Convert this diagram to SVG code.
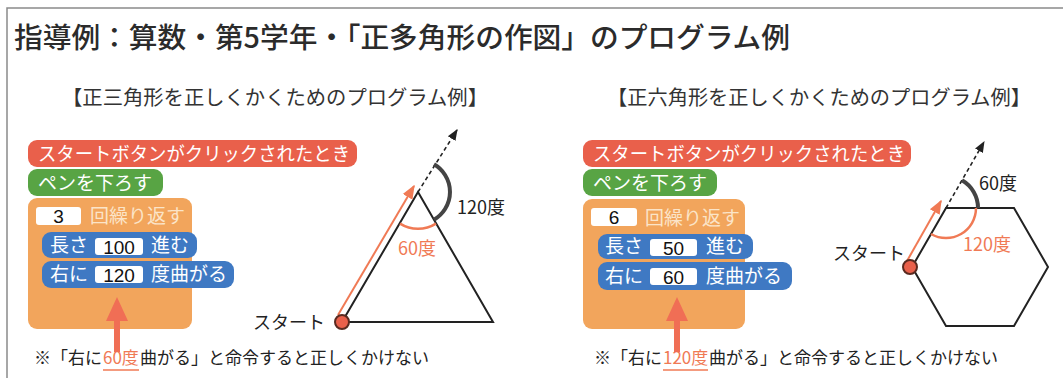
<svg xmlns="http://www.w3.org/2000/svg" width="1063" height="378" viewBox="0 0 1063 378">
<defs>
<style>
text{font-family:"Noto Sans CJK JP","Noto Sans",sans-serif;}
.title{font-size:28px;fill:#2b2b2b;font-weight:500;}
.sub{font-size:20px;fill:#333;}
.bt{font-size:19px;fill:#fff;}
.pale{font-size:19px;fill:#fbe4c8;}
.num{font-size:19px;fill:#111;font-family:"Liberation Sans",Arial,sans-serif;}
.lbl{font-size:18px;fill:#222;}
.olbl{font-size:18px;fill:#f07a55;}
.note{font-size:17px;fill:#222;}
.onote{font-size:17px;fill:#f07a55;}
.red{fill:#e9604b;}
.green{fill:#58a444;}
.orange{fill:#f2a55c;}
.blue{fill:#3f79c3;}
.box{fill:#fff;}
.edge{fill:none;stroke:#222;stroke-width:2;}
.dash{fill:none;stroke:#222;stroke-width:1.6;stroke-dasharray:4 3;}
.oline{fill:none;stroke:#f07a55;stroke-width:2;}
.garc{fill:none;stroke:#444;stroke-width:4;}
.oarc{fill:none;stroke:#f07a55;stroke-width:2.5;}
.start{fill:#e9604b;stroke:#5a2a20;stroke-width:2;}
.uarrow{fill:#f06e55;}
.uline{stroke:#f07a55;stroke-width:1.5;}
</style>
<marker id="ah" viewBox="0 0 10 10" refX="9" refY="5" markerWidth="7" markerHeight="7" orient="auto"><path d="M0,1 L10,5 L0,9 z" fill="#222"/></marker>
<marker id="oah" viewBox="0 0 10 10" refX="9" refY="5" markerWidth="7" markerHeight="7" orient="auto"><path d="M0,1 L10,5 L0,9 z" fill="#f07a55"/></marker>
</defs>
<rect x="0" y="0" width="1063" height="378" fill="#fff"/>
<g id="frame"><path d="M7,378 V8 H1063" fill="none" stroke="#8a8a8a" stroke-width="1.5"/></g>
<g id="title"><text class="title" x="14" y="48" textLength="776" lengthAdjust="spacingAndGlyphs">指導例：算数・第5学年・「正多角形の作図」のプログラム例</text></g>
<g id="sub-left"><text class="sub" x="62" y="105" textLength="426" lengthAdjust="spacingAndGlyphs">【正三角形を正しくかくためのプログラム例】</text></g>
<g id="sub-right"><text class="sub" x="607" y="105" textLength="424" lengthAdjust="spacingAndGlyphs">【正六角形を正しくかくためのプログラム例】</text></g>

<!-- Left program -->
<g id="left-hat"><rect class="red" x="28" y="140" width="329" height="27" rx="9"/><text class="bt" x="38" y="161" textLength="312" lengthAdjust="spacingAndGlyphs">スタートボタンがクリックされたとき</text></g>
<g id="left-pen"><rect class="green" x="28" y="169" width="135" height="27" rx="9"/><text class="bt" x="38" y="190">ペンを下ろす</text></g>
<g id="left-repeat"><rect class="orange" x="28" y="198" width="164" height="131" rx="9"/><rect class="box" x="36" y="207" width="45" height="18" rx="3"/><text class="num" x="58.5" y="223" text-anchor="middle">3</text><text class="pale" x="90" y="223">回繰り返す</text></g>
<g id="left-move"><rect class="blue" x="42" y="232" width="155" height="26" rx="9"/><text class="bt" x="50" y="252">長さ</text><rect class="box" x="95" y="238" width="48" height="17" rx="3"/><text class="num" x="119" y="253.5" text-anchor="middle">100</text><text class="bt" x="151" y="252">進む</text></g>
<g id="left-turn"><rect class="blue" x="42" y="261" width="192" height="27" rx="9"/><text class="bt" x="50" y="281">右に</text><rect class="box" x="95" y="266" width="48" height="17" rx="3"/><text class="num" x="119" y="281.5" text-anchor="middle">120</text><text class="bt" x="151" y="281">度曲がる</text></g>
<g id="left-note">
<text class="note" x="34" y="364">※「右に</text>
<text class="onote" x="103" y="364">60度</text>
<text class="note" x="140" y="364">曲がる」と命令すると正しくかけない</text>
<line class="uline" x1="103" y1="370" x2="139" y2="370"/>
</g>

<!-- Left triangle -->
<g id="triangle"><path class="edge" d="M342,322 L418,192 L493,322 Z"/></g>
<g id="tri-labels">
<text class="lbl" x="457" y="214">120度</text>
<text class="olbl" x="398" y="255">60度</text>
<text class="lbl" x="253" y="329">スタート</text>
</g>

<!-- Right program -->
<g id="right-hat"><rect class="red" x="583" y="140" width="328" height="27" rx="9"/><text class="bt" x="593" y="161" textLength="312" lengthAdjust="spacingAndGlyphs">スタートボタンがクリックされたとき</text></g>
<g id="right-pen"><rect class="green" x="583" y="169" width="134" height="27" rx="9"/><text class="bt" x="593" y="190">ペンを下ろす</text></g>
<g id="right-repeat"><rect class="orange" x="583" y="199" width="162" height="130" rx="9"/><rect class="box" x="591" y="208" width="46" height="18" rx="3"/><text class="num" x="614" y="224" text-anchor="middle">6</text><text class="pale" x="645" y="225">回繰り返す</text></g>
<g id="right-move"><rect class="blue" x="598" y="234" width="155" height="25" rx="9"/><text class="bt" x="605" y="253">長さ</text><rect class="box" x="650" y="239" width="47" height="17" rx="3"/><text class="num" x="673.5" y="254.5" text-anchor="middle">50</text><text class="bt" x="706" y="253">進む</text></g>
<g id="right-turn"><rect class="blue" x="598" y="262" width="194" height="28" rx="9"/><text class="bt" x="605" y="283">右に</text><rect class="box" x="650" y="268" width="47" height="17" rx="3"/><text class="num" x="673.5" y="283.5" text-anchor="middle">60</text><text class="bt" x="706" y="283">度曲がる</text></g>
<g id="right-note">
<text class="note" x="594" y="364">※「右に</text>
<text class="onote" x="663" y="364">120度</text>
<text class="note" x="709" y="364">曲がる」と命令すると正しくかけない</text>
<line class="uline" x1="663" y1="370" x2="708" y2="370"/>
</g>

<!-- Right hexagon -->
<g id="hexagon"><path class="edge" d="M912,267 L946,208 L1014,208 L1048,267 L1014,326 L946,326 Z"/></g>
<g id="hex-labels">
<text class="lbl" x="979" y="190">60度</text>
<text class="olbl" x="963" y="251">120度</text>
<text class="lbl" x="833" y="260">スタート</text>
</g>

<g id="connectors">
<!-- footnote arrows -->
<path class="uarrow" d="M117,297 L128,321 L120,321 L120,352 L114,352 L114,321 L106,321 Z"/>
<path class="uarrow" d="M677,297 L688,321 L680,321 L680,352 L674,352 L674,321 L666,321 Z"/>
<!-- triangle -->
<line class="dash" x1="418" y1="192" x2="457" y2="130" marker-end="url(#ah)"/>
<line class="oline" x1="338" y1="315" x2="414" y2="186" marker-end="url(#oah)"/>
<path class="garc" d="M434,164.3 A32,32 0 0 1 434,219.7"/>
<path class="oarc" d="M400,223.6 A34,34 0 0 0 436,223.6"/>
<circle class="start" cx="342" cy="322" r="7"/>
<!-- hexagon -->
<line class="dash" x1="946" y1="208" x2="984" y2="142" marker-end="url(#ah)"/>
<line class="oline" x1="907" y1="261" x2="941" y2="201" marker-end="url(#oah)"/>
<path class="garc" d="M962,180.3 A32,32 0 0 1 978,208"/>
<path class="oarc" d="M976,208 A30,30 0 0 1 931,234"/>
<circle class="start" cx="910" cy="267" r="7"/>
</g>
</svg>
